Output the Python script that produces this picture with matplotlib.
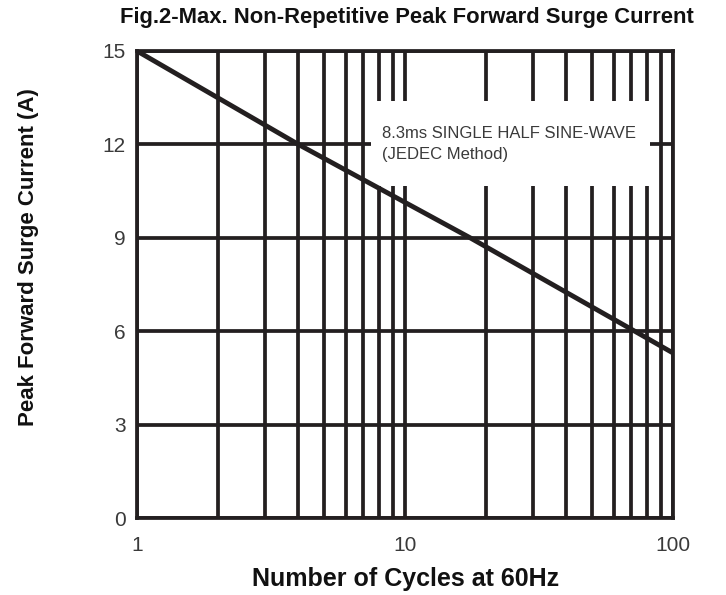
import matplotlib
matplotlib.use("Agg")
import matplotlib.pyplot as plt
from matplotlib.patches import Rectangle
from matplotlib.ticker import FixedLocator, NullFormatter

plt.rcParams['font.family'] = ['Liberation Sans', 'DejaVu Sans']

cycles = [1, 4, 17.5, 72, 100]
current = [15.0, 12.0, 9.0, 6.0, 5.3]
x_ticks = [1, 10, 100]
x_ticklabels = ["1", "10", "100"]
y_ticks = [0, 3, 6, 9, 12, 15]
minor_x = [2, 3, 4, 5, 6, 7, 8, 9, 20, 30, 40, 50, 60, 70, 80, 90]

ink = "#231f20"
fig = plt.figure(figsize=(7.26, 5.95), dpi=100)
ax = fig.add_axes([0.1887, 0.1294, 0.7383, 0.7849])
ax.set_xscale("log")
ax.set_xlim(1, 100)
ax.set_ylim(0, 15)
ax.xaxis.set_major_locator(FixedLocator(x_ticks))
ax.xaxis.set_minor_locator(FixedLocator(minor_x))
ax.xaxis.set_minor_formatter(NullFormatter())
ax.set_xticks(x_ticks)
ax.set_xticklabels(x_ticklabels)
ax.set_yticks(y_ticks)
ax.tick_params(which="both", length=0)
ax.tick_params(axis="y", pad=8)
ax.tick_params(axis="x", pad=13)
for lab in ax.get_xticklabels() + ax.get_yticklabels():
    lab.set_fontsize(15)
    lab.set_color("#3a3a3a")
ax.grid(True, which="both", color=ink, lw=2.7, zorder=1)
ax.set_axisbelow(True)
for s in ax.spines.values():
    s.set_color(ink)
    s.set_linewidth(2.7)

ax.add_patch(Rectangle((7.47, 10.67), 82 - 7.47, 13.4 - 10.67, facecolor="white",
                       edgecolor="none", zorder=2))
ax.text(8.2, 12.0, "8.3ms SINGLE HALF SINE-WAVE\n(JEDEC Method)", fontsize=12,
        color="#3a3a3a", va="center", ha="left", linespacing=1.5, zorder=3)

ax.plot(cycles, current, color=ink, lw=3.5, zorder=4, solid_capstyle="butt")

fig.text(0.56, 0.97, "Fig.2-Max. Non-Repetitive Peak Forward Surge Current",
         ha="center", va="center", fontsize=15.8, fontweight="bold", color="#111111")
fig.text(0.558, 0.027, "Number of Cycles at 60Hz", ha="center", va="center",
         fontsize=18, fontweight="bold", color="#111111")
fig.text(0.039, 0.568, "Peak Forward Surge Current (A)", ha="center", va="center",
         rotation=90, fontsize=16, fontweight="bold", color="#111111")

fig.savefig("out.png", dpi=100)
